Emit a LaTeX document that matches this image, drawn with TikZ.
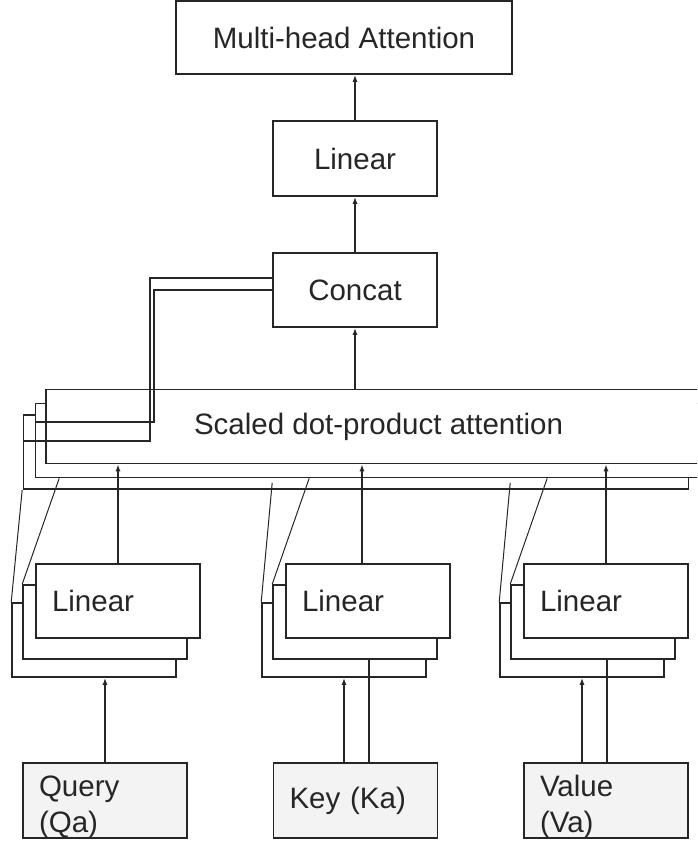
\documentclass[tikz,border=0pt]{standalone}
\usepackage{fontspec}
\setmainfont{Liberation Sans}
\usetikzlibrary{arrows.meta}

\definecolor{inputgray}{HTML}{F3F3F3}
\definecolor{ink}{HTML}{262626}

\tikzset{
    box/.style={draw=ink, line width=1.6pt, fill=white, minimum height=74pt,
        inner sep=0pt, text=ink, font=\fontsize{29.5}{36}\selectfont},
    linbox/.style={box, minimum width=164pt, text width=132pt, align=left},
    inbox/.style={linbox, fill=inputgray, minimum height=75pt},
    twoline/.style={text height=27pt, text depth=36pt},
    arr/.style={draw=ink, line width=1.3pt, -{Latex[length=7pt,width=5pt]}},
    wire/.style={draw=ink, line width=1.3pt},
    slant/.style={draw=ink, line width=1pt},
}

\begin{document}
\begin{tikzpicture}[x=1pt, y=-1pt]
    \clip (0,0) rectangle (697,844);

    % Output side
    \node[box, minimum width=336pt, minimum height=73pt] (mha) at (344,37.5) {Multi-head Attention};
    \node[box, minimum width=164pt, minimum height=75pt] (linout) at (355,158.5) {Linear};
    \node[box, minimum width=164pt] (concat) at (355,290) {Concat};
    \draw[arr] (linout.north) -- (linout.north |- mha.south);
    \draw[arr] (concat.north) -- (concat.north |- linout.south);

    % Stacked attention heads (back to front)
    \node[box, minimum width=665pt] (sdpa3) at (356,452) {};
    \node[box, minimum width=665pt] (sdpa2) at (368,440.5) {};
    \node[box, minimum width=665pt] (sdpa1) at (378.5,426.5) {Scaled dot-product attention};
    \draw[arr] (concat.south |- sdpa1.north) -- (concat.south);

    % Heads going back into Concat
    \coordinate (bend1) at (150,441);
    \coordinate (bend2) at (154,422);
    \draw[wire] ([yshift=12pt]concat.west) -| (bend1) -- (bend1 -| sdpa3.west);
    \draw[wire] (concat.west) -| (bend2) -- (bend2 -| sdpa2.west);

    % Linear projections for Q, K, V
    \foreach \n/\x/\s/\a in {q/118/0/0, k/368/7/-6, v/606/7/0}{
        \node[linbox] (lin\n3) at (\x-24,640) {};
        \node[linbox] (lin\n2) at (\x-13,622) {};
        \node[linbox] (lin\n1) at (\x,601) {Linear};
        \draw[slant] (lin\n2.north west) -- ([xshift=37pt]lin\n2.north west |- sdpa2.south);
        \draw[slant] (lin\n3.north west) -- ([xshift=11pt, yshift=\s pt]lin\n3.north west |- sdpa3.south);
        \draw[arr] ([xshift=\a pt]lin\n1.north) -- ([xshift=\a pt]lin\n1.north |- sdpa1.south);
    }

    % Inputs
    \node[inbox, twoline] (query) at (105,800.5) {Query\\(Qa)};
    \node[inbox] (key) at (355.5,800.5) {Key (Ka)};
    \node[inbox, twoline] (value) at (606,800.5) {Value\\(Va)};
    \draw[arr] (query.north) -- (query.north |- linq3.south);
    \draw[arr] ([xshift=-11.5pt]key.north) -- ([xshift=-11.5pt]key.north |- link3.south);
    \draw[wire] ([xshift=13.5pt]key.north) -- ([xshift=13.5pt]key.north |- link2.south);
    \draw[arr] ([xshift=-24pt]value.north) -- ([xshift=-24pt]value.north |- linv3.south);
    \draw[wire] ([xshift=1pt]value.north) -- ([xshift=1pt]value.north |- linv2.south);
\end{tikzpicture}
\end{document}
